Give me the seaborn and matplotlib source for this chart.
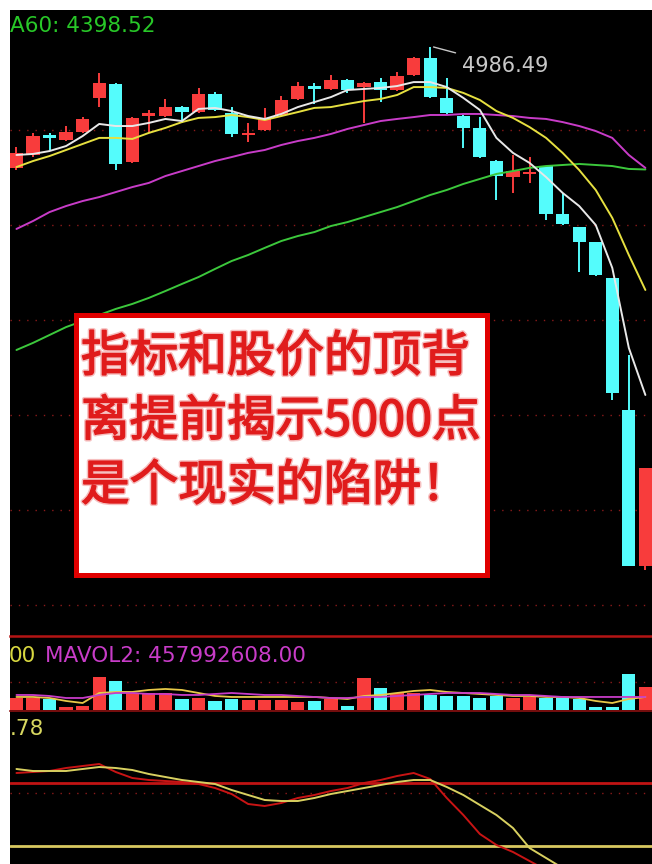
import numpy as np
import pandas as pd
import matplotlib
matplotlib.use("Agg")
import matplotlib.pyplot as plt
import matplotlib.patheffects as pe
import seaborn as sns
from matplotlib.patches import Rectangle

# --- daily candles (index points) ---
OPEN = [4405.6, 4468.0, 4564.0, 4540.0, 4578.4, 4741.6, 4808.8, 4434.4, 4655.2, 4655.2,
        4698.4, 4674.4, 4760.8, 4669.6, 4564.0, 4588.0, 4660.0, 4736.8, 4799.2, 4784.8,
        4828.0, 4794.4, 4818.4, 4780.0, 4852.0, 4933.6, 4741.6, 4655.2, 4597.6, 4439.2,
        4362.4, 4376.8, 4415.2, 4184.8, 4122.4, 4050.4, 3877.6, 3244.0, 2495.2]
CLOSE = [4477.6, 4559.2, 4549.6, 4578.4, 4640.8, 4813.6, 4424.8, 4645.6, 4669.6, 4698.4,
         4674.4, 4760.8, 4684.0, 4568.8, 4573.6, 4645.6, 4732.0, 4799.2, 4784.8, 4828.0,
         4780.0, 4813.6, 4780.0, 4847.2, 4933.6, 4746.4, 4669.6, 4597.6, 4458.4, 4367.2,
         4391.2, 4386.4, 4184.8, 4136.8, 4050.4, 3892.0, 3325.6, 2495.2, 2965.6]
HIGH = [4506.4, 4573.6, 4573.6, 4607.2, 4650.4, 4861.6, 4813.6, 4650.4, 4684.0, 4736.8,
        4703.2, 4789.6, 4770.4, 4698.4, 4621.6, 4693.6, 4751.2, 4818.4, 4813.6, 4852.0,
        4832.8, 4818.4, 4837.6, 4866.4, 4938.4, 4986.49, 4837.6, 4660.0, 4650.4, 4444.0,
        4468.0, 4458.4, 4415.2, 4285.6, 4122.4, 4050.4, 3877.6, 3508.0, 2965.6]
LOW = [4396.0, 4458.4, 4492.0, 4535.2, 4573.6, 4698.4, 4396.0, 4429.6, 4578.4, 4650.4,
       4621.6, 4669.6, 4679.2, 4554.4, 4530.4, 4583.2, 4655.2, 4732.0, 4712.8, 4780.0,
       4765.6, 4621.6, 4722.4, 4775.2, 4847.2, 4741.6, 4664.8, 4501.6, 4453.6, 4252.0,
       4285.6, 4333.6, 4156.0, 4132.0, 3906.4, 3887.2, 3292.0, 2495.2, 2476.0]

MA5 = [4468, 4473, 4487, 4511, 4559, 4617, 4607, 4607, 4622, 4641, 4631, 4689, 4694,
       4679, 4655, 4641, 4665, 4698, 4722, 4746, 4780, 4785, 4790, 4799, 4818, 4818,
       4794, 4742, 4684, 4550, 4478, 4430, 4362, 4286, 4223, 4132, 3926, 3542, 3316]
MA10 = [4410, 4439, 4463, 4492, 4521, 4550, 4550, 4545, 4574, 4598, 4626, 4646, 4650,
        4660, 4650, 4636, 4655, 4674, 4694, 4698, 4713, 4727, 4737, 4756, 4794, 4794,
        4790, 4766, 4732, 4679, 4646, 4602, 4550, 4478, 4396, 4300, 4166, 3988, 3820]
MA30 = [4113, 4151, 4194, 4223, 4247, 4266, 4290, 4314, 4334, 4367, 4391, 4415, 4439,
        4458, 4478, 4492, 4516, 4535, 4550, 4569, 4593, 4612, 4631, 4641, 4650, 4660,
        4660, 4665, 4665, 4660, 4655, 4646, 4641, 4626, 4607, 4583, 4550, 4468, 4406]
MA60 = [3532, 3566, 3604, 3642, 3671, 3700, 3729, 3753, 3782, 3815, 3849, 3882, 3921,
        3959, 3988, 4022, 4055, 4079, 4098, 4127, 4146, 4170, 4194, 4218, 4247, 4276,
        4300, 4329, 4353, 4377, 4391, 4406, 4415, 4420, 4425, 4420, 4415, 4401, 4398.52]

# --- volume (1e8 shares) ---
VOL = [4.22, 4.22, 3.87, 1.06, 1.41, 11.62, 10.21, 5.98, 5.98, 5.98, 3.87, 4.22, 3.17,
       3.87, 3.52, 3.52, 3.52, 2.82, 3.17, 3.87, 1.41, 11.26, 7.74, 5.98, 5.98, 5.28,
       4.93, 4.93, 4.22, 4.93, 4.22, 4.58, 4.22, 4.22, 3.87, 1.06, 1.06, 12.67, 8.10]
MAVOL1 = [4.58, 4.58, 4.22, 3.17, 2.46, 5.98, 6.34, 6.34, 7.04, 7.39, 7.04, 5.98, 4.93,
          4.58, 4.58, 4.58, 4.58, 4.58, 4.58, 4.22, 3.87, 4.93, 5.28, 5.98, 6.69, 7.04,
          6.34, 5.98, 5.63, 5.28, 4.93, 4.93, 4.58, 4.58, 4.22, 3.17, 2.46, 3.87, 4.58]
MAVOL2 = [5.28, 5.28, 4.93, 4.22, 4.22, 5.28, 5.98, 5.98, 5.63, 5.63, 5.28, 5.28, 5.63,
          5.98, 5.63, 5.28, 5.28, 4.93, 4.58, 4.22, 4.22, 4.58, 4.58, 4.93, 5.28, 5.63,
          5.98, 5.98, 5.98, 5.63, 5.28, 5.28, 4.93, 4.58, 4.58, 4.58, 4.58, 4.58, 4.57992608]
MAVOL2_LAST = 457992608

# --- lower indicator (yellow / red lines) ---
IND_YELLOW = [77, 75, 75, 75, 77, 79, 78, 76, 72, 69, 66, 64, 62, 56, 51, 46, 45, 45,
              48, 52, 55, 58, 61, 64, 66, 66, 59, 51, 41, 31, 18, -2, -12, -22]
IND_RED = [73, 74, 75, 78, 80, 82, 74, 68, 66, 65, 64, 62, 58, 52, 42, 40, 43, 48,
           51, 55, 58, 63, 66, 70, 73, 67, 48, 31, 12, 1, -6, -15, -24]

GRID_MAIN = [4588, 4132, 3676, 3220, 2764, 2308]
GRID_VOL = [9.86]
IND_LEVELS = {"red": 63, "dotted": 53, "yellow": 0}

CAPTION = ["指标和股价的顶背", "离提前揭示5000点", "是个现实的陷阱！"]

# --- style ---
W, H = 652, 864
UP, DOWN = "#f83c3c", "#54fcfc"
GRID_C = "#8b1a1a"
TEXT_RED = "#e01c1c"
sns.set_theme(style="dark", rc={"axes.facecolor": "black", "figure.facecolor": "white"})
plt.rcParams["font.family"] = ["DejaVu Sans"]
CJK = ["Noto Sans CJK SC", "DejaVu Sans"]


def px_axes(fig, top, bottom, z):
    a = fig.add_axes([10 / W, 1 - bottom / H, (W - 10) / W, (bottom - top) / H])
    a.set_facecolor("black")
    a.set_zorder(z)
    a.set_xticks([]); a.set_yticks([])
    for s in a.spines.values():
        s.set_visible(False)
    a.grid(False)
    return a


def fig_text(x, y, s, **kw):
    return fig.text(x / W, 1 - y / H, s, va="baseline", ha="left", **kw)


fig = plt.figure(figsize=(W / 100, H / 100), dpi=100)
ax = px_axes(fig, 10, 636, 2)
axv = px_axes(fig, 636, 711, 1)
axi = px_axes(fig, 711, H, 0)

n = len(OPEN)
df = pd.DataFrame({"open": OPEN, "close": CLOSE, "high": HIGH, "low": LOW,
                   "ma5": MA5, "ma10": MA10, "ma30": MA30, "ma60": MA60,
                   "vol": VOL, "mv1": MAVOL1, "mv2": MAVOL2})
df["i"] = np.arange(n)
colors = np.where(df["close"] >= df["open"], UP, DOWN)
xlim = (-0.39, 38.4)

# main panel
for lvl in GRID_MAIN:
    ax.axhline(lvl, color=GRID_C, ls=(0, (1, 5)), lw=1.0, zorder=1)
ax.vlines(df["i"], df["low"], df["high"], colors=colors, lw=1.4, zorder=2)
body = (df["close"] - df["open"]).abs().clip(lower=6)
ax.bar(df["i"], body, bottom=df[["open", "close"]].min(axis=1), width=0.8,
       color=colors, lw=0, zorder=3)
for col, c in [("ma60", "#3cc83c"), ("ma30", "#c83cc8"), ("ma10", "#e6e040"), ("ma5", "#e8e8e8")]:
    sns.lineplot(x=df["i"], y=df[col], ax=ax, color=c, lw=1.4, zorder=4)
ax.set_xlim(*xlim)
ax.set_ylim(2159, 5164)
ax.set_xlabel(""); ax.set_ylabel("")
ax.spines["bottom"].set_visible(True)
ax.spines["bottom"].set_color("#b41414")
ax.spines["bottom"].set_linewidth(1.8)

top_i = int(np.argmax(HIGH))
ax.annotate(f"{HIGH[top_i]:.2f}", xy=(top_i + 0.2, HIGH[top_i]), xytext=(28, -25),
            textcoords="offset pixels", color="#c8c8c8", fontsize=15, va="baseline",
            arrowprops=dict(arrowstyle="-", color="#c8c8c8", lw=1, shrinkA=2, shrinkB=0))

# volume panel
for lvl in GRID_VOL:
    axv.axhline(lvl, color=GRID_C, ls=(0, (1, 5)), lw=1.0, zorder=1)
axv.bar(df["i"], df["vol"], width=0.8, color=colors, lw=0, zorder=2)
sns.lineplot(x=df["i"], y=df["mv1"], ax=axv, color="#e8c848", lw=1.3, zorder=3)
sns.lineplot(x=df["i"], y=df["mv2"], ax=axv, color="#c83cc8", lw=1.3, zorder=3)
axv.set_xlim(*xlim)
axv.set_ylim(-0.35, 26.0)
axv.set_xlabel(""); axv.set_ylabel("")
axv.spines["bottom"].set_visible(True)
axv.spines["bottom"].set_color("#8b1010")
axv.spines["bottom"].set_linewidth(1.2)

# indicator panel
axi.axhline(IND_LEVELS["red"], color="#c01414", lw=2, zorder=1)
axi.axhline(IND_LEVELS["dotted"], color=GRID_C, ls=(0, (1, 5)), lw=1.0, zorder=1)
axi.axhline(IND_LEVELS["yellow"], color="#d8c860", lw=2, zorder=1)
sns.lineplot(x=np.arange(len(IND_RED)), y=IND_RED, ax=axi, color="#c81414", lw=1.4, zorder=3)
sns.lineplot(x=np.arange(len(IND_YELLOW)), y=IND_YELLOW, ax=axi, color="#d8d060", lw=1.4, zorder=3)
axi.set_xlim(*xlim)
axi.set_ylim(-18, 135)
axi.set_xlabel(""); axi.set_ylabel("")

# labels
fig_text(10, 32, f"A60: {MA60[-1]:.2f}", color="#28c828", fontsize=15.5)
fig_text(9, 662, "00", color="#d8d840", fontsize=15.5)
fig_text(45, 662, f"MAVOL2: {MAVOL2_LAST:.2f}", color="#c83cc8", fontsize=15.5)
fig_text(10, 735, ".78", color="#d8d860", fontsize=15.5)

# caption box
fig.add_artist(Rectangle((75.5 / W, 1 - 574.5 / H), 412 / W, 260 / H,
                         transform=fig.transFigure, facecolor="white",
                         edgecolor="#e00000", lw=3.6, zorder=5))
halo = [pe.Stroke(linewidth=3.2, foreground="#f6c0c0"),
        pe.Stroke(linewidth=1.1, foreground=TEXT_RED), pe.Normal()]
for k, line in enumerate(CAPTION):
    t = fig_text(81, 371 + 64.5 * k, line, fontsize=35, color=TEXT_RED,
                 family=CJK, zorder=6)
    t.set_path_effects(halo)

fig.savefig("out.png", dpi=100, facecolor="white")
